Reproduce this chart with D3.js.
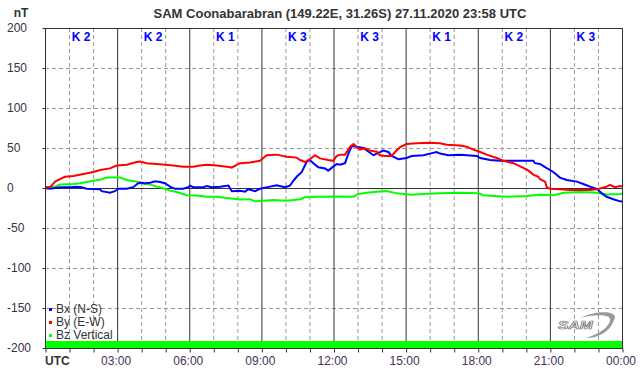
<!DOCTYPE html>
<html>
<head>
<meta charset="utf-8">
<script src="https://cdn.jsdelivr.net/npm/d3@7"></script>
<style>
  body { margin: 0; background: #fff; }
  svg { display: block; font-family: 'Liberation Sans', Arial, sans-serif; }
</style>
</head>
<body>
<div id="chart"></div>
<script>
// SAM magnetometer - one day of Bx / By / Bz
const titleText = 'SAM Coonabarabran (149.22E, 31.26S) 27.11.2020 23:58 UTC';

// K index for each 3 hour block
const kIndex = [2, 2, 1, 3, 3, 1, 2, 3];

const yTicks = [200, 150, 100, 50, 0, -50, -100, -150, -200];
const timeLabels = ['03:00', '06:00', '09:00', '12:00', '15:00', '18:00', '21:00', '00:00'];

// Bx (N-S), hours UTC / nT
const bxHours = [0, 0.21, 0.62, 1.04, 1.32, 1.53, 1.73, 2.29, 2.36, 2.7, 2.91, 3.05, 3.4, 3.67, 3.88,
  3.95, 4.16, 4.37, 4.58, 4.78, 4.99, 5.2, 5.41, 5.75, 5.96, 6.03, 6.17, 6.59, 6.73, 6.93, 7.28, 7.63, 7.77, 8.11,
  8.32, 8.46, 8.74, 8.94, 9.36, 9.64, 9.98, 10.19, 10.33, 10.47, 10.68, 10.88, 11.02, 11.16, 11.37, 11.65, 11.78, 11.99, 12.13, 12.27,
  12.48, 12.62, 12.76, 12.96, 13.24, 13.52, 13.66, 13.87, 14.07, 14.28, 14.42, 14.7, 15.04, 15.25, 15.74, 16.01, 16.29, 16.43,
  16.78, 17.26, 17.54, 17.96, 18.1, 18.51, 18.93, 19.48, 20.31, 20.38, 20.59,
  20.8, 21.14, 21.42, 21.7, 22.12, 22.39, 22.67, 22.95, 23.16, 23.36, 23.64, 23.92, 24];
const bxValues = [0, -1, 1, 1, 1.7, 1, -1, -1.7, -4, -6, -4, -1, -1, 1, 6,
  6.7, 6, 6.7, 8.3, 7.5, 6, 1.7, -1, -1, 1, 3, 1, 1, 2.5, 1, 1.7, 3, -4, -3.5,
  -4.6, -1.5, -4, -1, 1.7, 3.3, 1, 3, 9, 14, 20, 32.5, 35, 31, 26, 24.5, 21.7, 26.7, 30, 29,
  31, 43, 52.5, 51.7, 50, 44, 41, 44, 46.7, 45, 40, 36, 37.5, 40, 41, 43, 45, 43,
  41, 41.7, 41, 40, 37.5, 35, 34, 34, 34, 31, 30,
  26, 20, 13, 10, 8, 5, 1.7, -1, -6.7, -11, -14, -16.7, -17];

// By (E-W)
const byHours = [0, 0.21, 0.28, 0.42, 0.62, 0.83, 1.18, 1.6, 2.01, 2.29, 2.7, 2.98, 3.4, 3.81,
  3.95, 4.23, 4.65, 4.99, 5.34, 5.75, 6.17, 6.45, 6.73, 7.14, 7.56, 7.77, 7.97, 8.11,
  8.53, 8.94, 9.22, 9.64, 10.05, 10.47, 10.61, 10.81, 11.02, 11.23, 11.44, 11.78, 11.99, 12.13, 12.27,
  12.48, 12.69, 12.83, 12.96, 13.1, 13.31, 13.52, 13.8, 13.93, 14.14, 14.42, 14.56, 14.77, 15.04, 15.46, 15.95, 16.43,
  16.71, 17.26, 17.54, 17.82, 18.1, 18.37, 18.79, 19.07, 19.48, 19.83, 20.11, 20.31, 20.52, 20.59,
  20.8, 20.87, 21.01, 21.42, 21.84, 22.25, 22.67, 22.95, 23.16, 23.36, 23.5, 23.71, 23.92, 24];
const byValues = [1, 1.5, 3, 8, 11, 14, 15, 17.5, 20, 22.5, 24.5, 28, 29, 32.5,
  33, 31, 30, 29, 28, 26.7, 26.7, 28, 29, 28, 26.7, 25.5, 29, 31,
  32, 34, 41, 41.7, 39, 38, 35, 32.5, 36, 41, 37, 35, 34, 40, 41.7,
  41.7, 51.7, 55, 51.7, 48, 49.6, 46.7, 45.4, 41, 40, 40, 45, 51, 55, 56, 56.7, 56,
  54, 53, 51.7, 48, 45, 41.7, 37.5, 34, 31, 26, 21.7, 16.7, 14, 11,
  8, 1, -1, -1.7, -2.5, -2.5, -2.5, -1.7, 0, 1.7, 4, 1, 2.5, 2];

// Bz vertical
const bzHours = [0, 0.42, 0.62, 1.18, 1.46, 1.73, 2.01, 2.36, 2.57, 3.12, 3.4, 3.81,
  3.95, 4.37, 4.65, 4.99, 5.2, 5.48, 5.89, 6.31, 6.73, 7.14, 7.56, 8.11,
  8.53, 8.74, 9.08, 9.5, 10.05, 10.61, 10.81, 11.3, 12.27,
  12.83, 13.03, 13.38, 13.8, 14.21, 14.63, 15.25, 15.74, 16.43,
  17.26, 18.03, 18.23, 18.65, 19.2, 20.04, 20.59,
  21.14, 21.56, 22.25, 22.81, 23.09, 23.36, 23.92, 24];
const bzValues = [0, 1.7, 4.5, 5, 6, 7.5, 9, 11, 13, 13, 10, 8,
  6, 4.5, 1.7, -1, -3.3, -5, -9, -9.5, -11, -11, -12.5, -14.5,
  -14, -16.7, -16, -15, -16, -14, -11.7, -11, -10.5,
  -11, -7.5, -6, -4.6, -3.7, -6.7, -8.3, -7.5, -6.7,
  -6, -6.7, -9, -10, -11, -10, -8.5,
  -9, -6, -5, -5.5, -6.7, -8, -7.5, -7];

// data coverage bar along the bottom
const coverage = [[0, 24]];

const seriesNames = ['Bx (N-S)', 'By (E-W)', 'Bz Vertical'];
const seriesColors = ['#0000ff', '#ff0000', '#00ff00'];

let width = 642;
let height = 376;
let plotLeft = 45, plotRight = 622, plotTop = 28, plotBottom = 348;

let svg = d3.select('#chart').append('svg')
  .attr('width', width)
  .attr('height', height);

let x = d3.scaleLinear().domain([0, 24]).range([plotLeft, plotRight]);
let y = d3.scaleLinear().domain([-200, 200]).range([plotBottom, plotTop]);

// Title
svg.append('text')
  .text(titleText)
  .attr('x', 340)
  .attr('y', 18)
  .attr('text-anchor', 'middle')
  .attr('font-size', 13)
  .attr('font-weight', 'bold')
  .attr('fill', '#333');

svg.append('text')
  .text('nT')
  .attr('x', 21)
  .attr('y', 17)
  .attr('text-anchor', 'middle')
  .attr('font-size', 12)
  .attr('font-weight', 'bold')
  .attr('fill', '#333');

// grid - hourly dashed, 3 hourly solid
let hours = d3.range(1, 24);
svg.append('g').selectAll('line')
  .data(hours.filter(h => h % 3 != 0))
  .join('line')
  .attr('x1', d => x(d) + 0.5).attr('x2', d => x(d) + 0.5)
  .attr('y1', plotTop).attr('y2', plotBottom)
  .attr('stroke', '#999')
  .attr('stroke-dasharray', '4,3');

svg.append('g').selectAll('line')
  .data(yTicks.filter(v => v != 0 && Math.abs(v) != 200))
  .join('line')
  .attr('x1', plotLeft).attr('x2', plotRight)
  .attr('y1', d => Math.round(y(d)) + 0.5).attr('y2', d => Math.round(y(d)) + 0.5)
  .attr('stroke', '#999')
  .attr('stroke-dasharray', '4,3');

svg.append('g').selectAll('line')
  .data(hours.filter(h => h % 3 == 0))
  .join('line')
  .attr('x1', d => x(d) + 0.5).attr('x2', d => x(d) + 0.5)
  .attr('y1', plotTop).attr('y2', plotBottom)
  .attr('stroke', '#333');

svg.append('line')
  .attr('x1', plotLeft).attr('x2', plotRight)
  .attr('y1', Math.round(y(0)) + 0.5).attr('y2', Math.round(y(0)) + 0.5)
  .attr('stroke', '#333');

// K index labels
svg.append('g').selectAll('text')
  .data(kIndex)
  .join('text')
  .text(d => 'K ' + d)
  .attr('x', (d, i) => x(i * 3 + 1.5))
  .attr('y', 41)
  .attr('text-anchor', 'middle')
  .attr('font-size', 12)
  .attr('font-weight', 'bold')
  .attr('fill', '#0000ff');

// coverage bar
svg.append('g').selectAll('rect')
  .data(coverage)
  .join('rect')
  .attr('x', d => x(d[0]))
  .attr('width', d => x(d[1]) - x(d[0]))
  .attr('y', y(-200) - 7)
  .attr('height', 7)
  .attr('fill', '#00ff00');

// series
let line = d3.line()
  .x(d => x(d[0]))
  .y(d => y(d[1]));

let series = [
  d3.zip(bxHours, bxValues),
  d3.zip(byHours, byValues),
  d3.zip(bzHours, bzValues),
];

[2, 0, 1].forEach(i => {
  svg.append('path')
    .datum(series[i])
    .attr('d', line)
    .attr('fill', 'none')
    .attr('stroke', seriesColors[i])
    .attr('stroke-width', 2);
});

// frame
svg.append('rect')
  .attr('x', plotLeft + 0.5).attr('y', plotTop + 0.5)
  .attr('width', plotRight - plotLeft).attr('height', plotBottom - plotTop)
  .attr('fill', 'none')
  .attr('stroke', '#333');

// y axis
let yaxis = d3.axisLeft(y).tickValues(yTicks).tickSize(3).tickFormat('');
svg.append('g')
  .attr('transform', `translate(${plotLeft + 0.5},0)`)
  .call(yaxis)
  .call(g => g.select('.domain').remove())
  .selectAll('line').attr('stroke', '#333');

svg.append('g').selectAll('text')
  .data(yTicks)
  .join('text')
  .text(d => d)
  .attr('x', 7)
  .attr('y', d => y(d) + 4)
  .attr('font-size', 12)
  .attr('fill', '#334');

// x axis
let xaxis = d3.axisBottom(x).tickValues(d3.range(0, 25)).tickSize(4).tickFormat('');
svg.append('g')
  .attr('transform', `translate(0.5,${plotBottom + 0.5})`)
  .call(xaxis)
  .call(g => g.select('.domain').remove())
  .selectAll('line').attr('stroke', '#333');

svg.append('text')
  .text('UTC')
  .attr('x', plotLeft)
  .attr('y', 365)
  .attr('font-size', 12)
  .attr('font-weight', 'bold')
  .attr('fill', '#333');

svg.append('g').selectAll('text')
  .data(timeLabels)
  .join('text')
  .text(d => d)
  .attr('x', (d, i) => x((i + 1) * 3) - 1)
  .attr('y', 365)
  .attr('text-anchor', 'middle')
  .attr('font-size', 12)
  .attr('fill', '#435');

// legend
let legend = svg.append('g').attr('transform', 'translate(50, 309)');
seriesNames.forEach((name, i) => {
  legend.append('rect')
    .attr('x', -1).attr('y', i * 13 - 1)
    .attr('width', 3).attr('height', 3)
    .attr('fill', seriesColors[i]);
  legend.append('text')
    .text(name)
    .attr('x', 6)
    .attr('y', i * 13 + 4)
    .attr('font-size', 12)
    .attr('fill', '#333');
});

// SAM logo
let logo = svg.append('g').attr('transform', 'translate(558, 312)');
logo.append('path')
  .attr('d', 'M 22 6 C 38 -2, 62 -2, 56 8 C 52 20, 40 26, 28 26 C 42 22, 52 14, 52 8 C 54 2, 36 2, 22 6 Z')
  .attr('fill', '#999');
logo.append('text')
  .text('SAM')
  .attr('x', 0)
  .attr('y', 17)
  .attr('font-size', 13)
  .attr('font-weight', 'bold')
  .attr('font-style', 'italic')
  .attr('fill', '#fff')
  .attr('stroke', '#777')
  .attr('stroke-width', 0.8)
  .attr('transform', 'scale(1.2, 0.8) translate(0, 4)');
</script>
</body>
</html>
